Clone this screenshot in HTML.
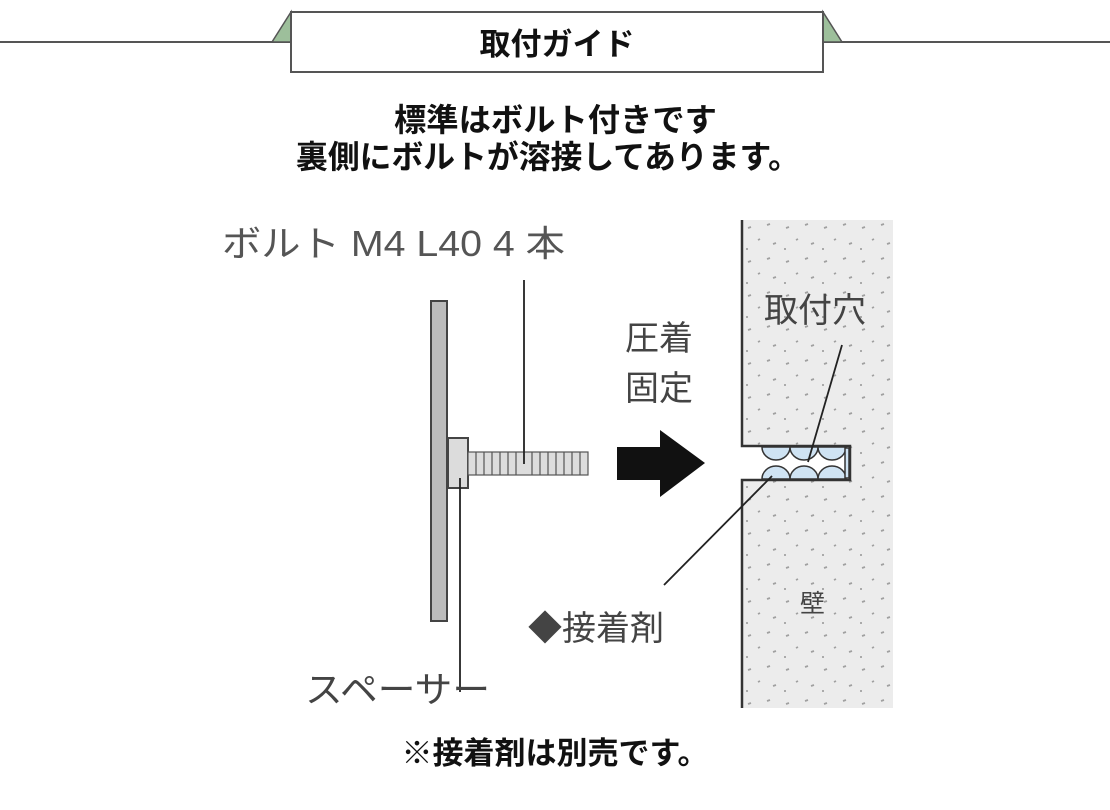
<!DOCTYPE html>
<html><head><meta charset="utf-8"><style>
html,body{margin:0;padding:0;background:#fff;}
svg{display:block;}
text{font-family:"Liberation Sans","Noto Sans CJK JP",sans-serif;}
</style></head><body>
<svg width="1110" height="810" viewBox="0 0 1110 810" xmlns="http://www.w3.org/2000/svg">
<defs>
<pattern id="dots" x="742" y="220" width="38" height="34" patternUnits="userSpaceOnUse">
<rect width="38" height="34" fill="#ececec"/>
<path d="M6 8 l3 -1 M25 5 l3 -1 M16 20 l2 -1 M31 24 l3 -1 M4 29 l2 0" stroke="#a0a0a0" stroke-width="1.8"/>
</pattern>
</defs>
<line x1="0" y1="42" x2="1110" y2="42" stroke="#555" stroke-width="2"/>
<polygon points="272,42 291,12 291,42" fill="#9dbf9b" stroke="#555" stroke-width="1.5"/>
<polygon points="842,42 823,12 823,42" fill="#9dbf9b" stroke="#555" stroke-width="1.5"/>
<rect x="291" y="12" width="532" height="60" fill="#fff" stroke="#555" stroke-width="2"/>
<text x="557" y="55" font-size="31" font-weight="bold" text-anchor="middle" fill="#111">取付ガイド</text>
<text x="394" y="131" font-size="32" font-weight="bold" textLength="323" lengthAdjust="spacingAndGlyphs" fill="#111">標準はボルト付きです</text>
<text x="296" y="168" font-size="32" font-weight="bold" textLength="504" lengthAdjust="spacingAndGlyphs" fill="#111">裏側にボルトが溶接してあります。</text>
<text x="222" y="256" font-size="36" textLength="343" lengthAdjust="spacingAndGlyphs" fill="#555">ボルト M4 L40 4 本</text>
<path d="M742 220 H893 V708 H742 V480 H850 V446 H742 Z" fill="url(#dots)"/>
<path d="M742 220 V446 H850 V480 H742 V708" fill="none" stroke="#333" stroke-width="2.5"/>
<g fill="#cfe3f3" stroke="#333" stroke-width="1.5">
<path d="M762 447 A14 13 0 0 0 790 447 Z"/><path d="M790 447 A14 13 0 0 0 818 447 Z"/><path d="M818 447 A14 13 0 0 0 846 447 Z"/>
<path d="M762 479 A14 13 0 0 1 790 479 Z"/><path d="M790 479 A14 13 0 0 1 818 479 Z"/><path d="M818 479 A14 13 0 0 1 846 479 Z"/>
<rect x="845" y="448" width="4" height="30"/>
</g>
<text x="764" y="322" font-size="34" fill="#444">取付穴</text>
<line x1="842" y1="345" x2="808" y2="462" stroke="#222" stroke-width="1.8"/>
<line x1="772" y1="476" x2="664" y2="585" stroke="#222" stroke-width="1.8"/>
<text x="800" y="612" font-size="25" fill="#444">壁</text>
<rect x="431" y="301" width="16" height="320" fill="#bcbcbc" stroke="#444" stroke-width="2"/>
<rect x="448" y="438" width="20" height="50" fill="#dcdcdc" stroke="#444" stroke-width="2"/>
<rect x="468" y="452" width="120" height="23" fill="#ddd" stroke="#555" stroke-width="1.2"/>
<g stroke="#555" stroke-width="1.2">
<line x1="476" y1="452" x2="476" y2="475"/><line x1="484" y1="452" x2="484" y2="475"/><line x1="492" y1="452" x2="492" y2="475"/><line x1="500" y1="452" x2="500" y2="475"/><line x1="508" y1="452" x2="508" y2="475"/><line x1="516" y1="452" x2="516" y2="475"/><line x1="532" y1="452" x2="532" y2="475"/><line x1="540" y1="452" x2="540" y2="475"/><line x1="548" y1="452" x2="548" y2="475"/><line x1="556" y1="452" x2="556" y2="475"/><line x1="564" y1="452" x2="564" y2="475"/><line x1="572" y1="452" x2="572" y2="475"/><line x1="580" y1="452" x2="580" y2="475"/>
</g>
<line x1="524" y1="280" x2="524" y2="464" stroke="#222" stroke-width="1.8"/>
<line x1="460" y1="478" x2="460" y2="692" stroke="#222" stroke-width="1.8"/>
<polygon points="617,447 660,447 660,430 705,463 660,497 660,480 617,480" fill="#111"/>
<text x="625" y="350" font-size="34" fill="#444">圧着</text>
<text x="625" y="400" font-size="34" fill="#444">固定</text>
<text x="528" y="640" font-size="34" fill="#444">◆接着剤</text>
<text x="305" y="702" font-size="36" textLength="185" lengthAdjust="spacingAndGlyphs" fill="#444">スペーサー</text>
<text x="555" y="764" font-size="31" font-weight="bold" text-anchor="middle" fill="#111">※接着剤は別売です。</text>
</svg>
</body></html>
